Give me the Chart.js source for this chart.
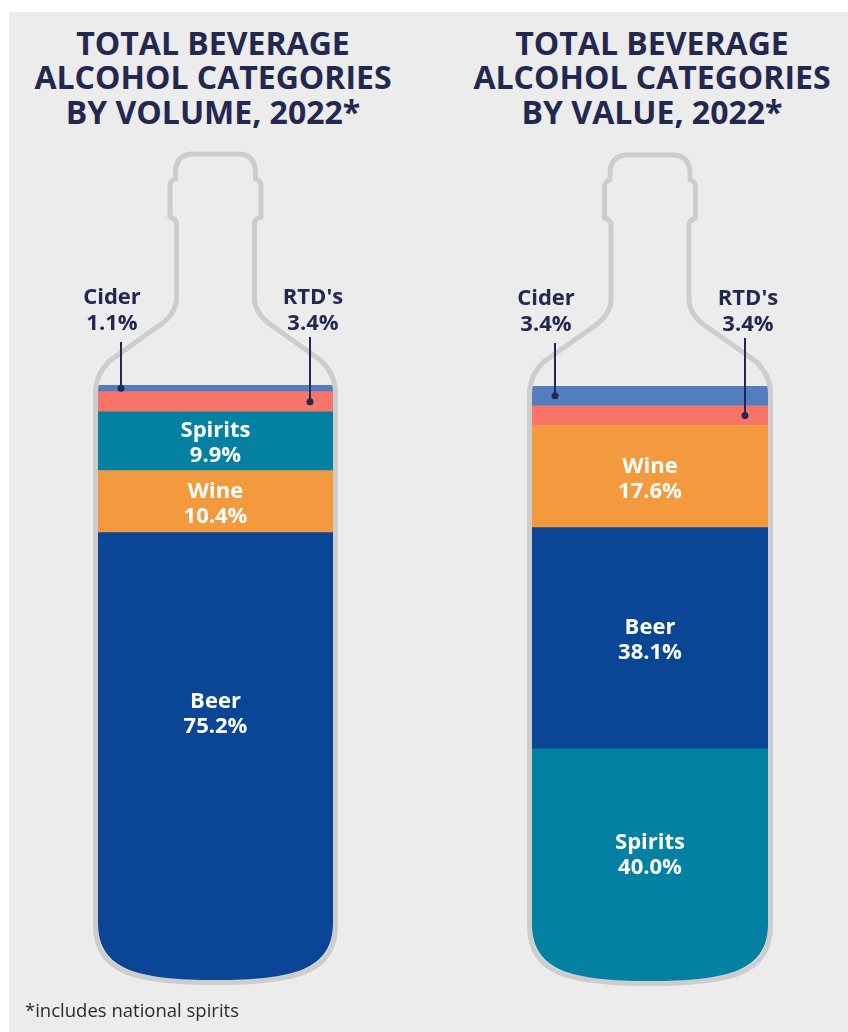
<!DOCTYPE html>
<html>
<head>
<meta charset="utf-8">
<script src="https://cdn.jsdelivr.net/npm/chart.js@4.4.1/dist/chart.umd.min.js"></script>
<style>
  html, body { margin: 0; width: 848px; height: 1032px; overflow: hidden; background: #fff; }
  #paper { position: absolute; left: 9px; top: 12px; right: 0; bottom: 0; background: #ececec; }
  .title {
    position: absolute; top: 25.5px; width: 424px; text-align: center;
    font: 700 32px/34.5px "Open Sans", sans-serif; color: #22284f;
  }
  canvas { position: absolute; top: 0; }
  #note { position: absolute; left: 25px; top: 997px; font: 400 18.5px "Open Sans", sans-serif; color: #2a2a2a; }
</style>
</head>
<body>
<div id="paper"></div>
<div class="title" id="title-volume" style="left:1px"></div>
<div class="title" id="title-value" style="left:440px"></div>
<canvas id="chart-volume" width="424" height="1032" style="left:0"></canvas>
<canvas id="chart-value" width="424" height="1032" style="left:424px"></canvas>
<div id="note"></div>
<script>
// data, bottom of the bottle first
const volumeTitle = ["TOTAL BEVERAGE", "ALCOHOL CATEGORIES", "BY VOLUME, 2022*"];
const volumeCategories = ["Beer", "Wine", "Spirits", "RTD's", "Cider"];
const volumeShares = [75.2, 10.4, 9.9, 3.4, 1.1];

const valueTitle = ["TOTAL BEVERAGE", "ALCOHOL CATEGORIES", "BY VALUE, 2022*"];
const valueCategories = ["Spirits", "Beer", "Wine", "RTD's", "Cider"];
const valueShares = [40.0, 38.1, 17.6, 3.4, 3.4];

const footnote = "*includes national spirits";

const COLORS = {
    "Beer": "#0b4595",
    "Wine": "#f39a3f",
    "Spirits": "#0380a2",
    "RTD's": "#f77568",
    "Cider": "#527ec0"
};
const NAVY = "#22284f";

document.getElementById("title-volume").innerHTML = volumeTitle.join("<br>");
document.getElementById("title-value").innerHTML = valueTitle.join("<br>");
document.getElementById("note").textContent = footnote;

// outline of the bottle, body = chart area (o pushes the body outwards)
function bottlePath(ctx, a, o) {
    const L = a.left - o, R = a.right + o, T = a.top, B = a.bottom + o;
    const cx = (a.left + a.right) / 2;
    ctx.beginPath();
    ctx.moveTo(cx, B);
    ctx.bezierCurveTo(L + 40, B, L, B - 10, L, B - 57);
    ctx.lineTo(L, T + 8);
    ctx.quadraticCurveTo(L, T - 10, L + 14, T - 24);
    ctx.lineTo(cx - 60, T - 57);
    ctx.quadraticCurveTo(cx - 39, T - 70, cx - 39, T - 87);
    ctx.lineTo(cx - 39, T - 161);
    ctx.quadraticCurveTo(cx - 39, T - 166, cx - 45.5, T - 168);
    ctx.lineTo(cx - 45.5, T - 200);
    ctx.quadraticCurveTo(cx - 45.5, T - 204, cx - 40, T - 206);
    ctx.lineTo(cx - 40, T - 212);
    ctx.quadraticCurveTo(cx - 40, T - 231, cx - 22, T - 231);
    ctx.lineTo(cx + 22, T - 231);
    ctx.quadraticCurveTo(cx + 40, T - 231, cx + 40, T - 212);
    ctx.lineTo(cx + 40, T - 206);
    ctx.quadraticCurveTo(cx + 45.5, T - 204, cx + 45.5, T - 200);
    ctx.lineTo(cx + 45.5, T - 168);
    ctx.quadraticCurveTo(cx + 39, T - 166, cx + 39, T - 161);
    ctx.lineTo(cx + 39, T - 87);
    ctx.quadraticCurveTo(cx + 39, T - 70, cx + 60, T - 57);
    ctx.lineTo(R - 14, T - 24);
    ctx.quadraticCurveTo(R, T - 10, R, T + 8);
    ctx.lineTo(R, B - 57);
    ctx.bezierCurveTo(R, B - 10, R - 40, B, cx, B);
    ctx.closePath();
}

const bottle = {
    id: "bottle",
    beforeDatasetsDraw(chart) {
        const ctx = chart.ctx, a = chart.chartArea;
        ctx.save();
        bottlePath(ctx, a, 2.5);
        ctx.lineWidth = 5;
        ctx.strokeStyle = "#cdcdcd";
        ctx.stroke();
        bottlePath(ctx, a, 0);
        ctx.clip();
    },
    afterDatasetsDraw(chart, args, opts) {
        const ctx = chart.ctx, a = chart.chartArea;
        ctx.restore();
        const n = chart.data.datasets.length;
        ctx.save();
        ctx.textAlign = "center";
        ctx.textBaseline = "alphabetic";
        ctx.font = "700 22px 'Open Sans'";
        chart.data.datasets.forEach(function (ds, i) {
            const bar = chart.getDatasetMeta(i).data[0];
            const top = bar.y, bottom = bar.base, h = bottom - top;
            const pct = ds.data[0].toFixed(1) + "%";
            if (h > 40) {
                // the bottom segment's label sits a bit higher, above the rounded base
                const mid = i === 0 ? top + opts.bottomLabelAt * h : (top + bottom) / 2;
                ctx.fillStyle = "#ffffff";
                ctx.fillText(ds.label, bar.x, mid - 4);
                ctx.fillText(pct, bar.x, mid + 21);
            } else {
                const left = i === n - 1;
                const lx = left ? a.left + 23 : a.right - 23;
                const tx = left ? a.left + 14 : a.right - 20;
                const mid = (top + bottom) / 2;
                ctx.fillStyle = NAVY;
                ctx.fillText(ds.label, tx, a.top - 81);
                ctx.fillText(pct, tx, a.top - 55);
                ctx.strokeStyle = NAVY;
                ctx.lineWidth = 2;
                ctx.beginPath();
                ctx.moveTo(lx, a.top - (left ? 43 : 48));
                ctx.lineTo(lx, mid);
                ctx.stroke();
                ctx.beginPath();
                ctx.arc(lx, mid, 3.5, 0, Math.PI * 2);
                ctx.fill();
            }
        });
        ctx.restore();
    }
};

function makeChart(id, categories, shares, box) {
    const total = shares.reduce((s, v) => s + v, 0);
    return new Chart(document.getElementById(id), {
        type: "bar",
        data: {
            labels: [""],
            datasets: categories.map((c, i) => ({
                label: c,
                data: [shares[i]],
                backgroundColor: COLORS[c],
                borderWidth: 0,
                barPercentage: 1,
                categoryPercentage: 1
            }))
        },
        options: {
            responsive: false,
            animation: false,
            layout: {
                padding: { left: box.left, right: 424 - box.right, top: box.top, bottom: 1032 - box.bottom }
            },
            scales: {
                x: { stacked: true, display: false },
                y: { stacked: true, display: false, min: 0, max: total }
            },
            plugins: {
                legend: { display: false },
                tooltip: { enabled: false },
                bottle: { bottomLabelAt: box.labelAt }
            }
        },
        plugins: [bottle]
    });
}

document.fonts.load("700 22px 'Open Sans'").then(function () {
    makeChart("chart-volume", volumeCategories, volumeShares, { left: 98, right: 333, top: 385, bottom: 980, labelAt: 0.40 });
    makeChart("chart-value", valueCategories, valueShares, { left: 108, right: 344, top: 386, bottom: 981, labelAt: 0.45 });
});
</script>
</body>
</html>
